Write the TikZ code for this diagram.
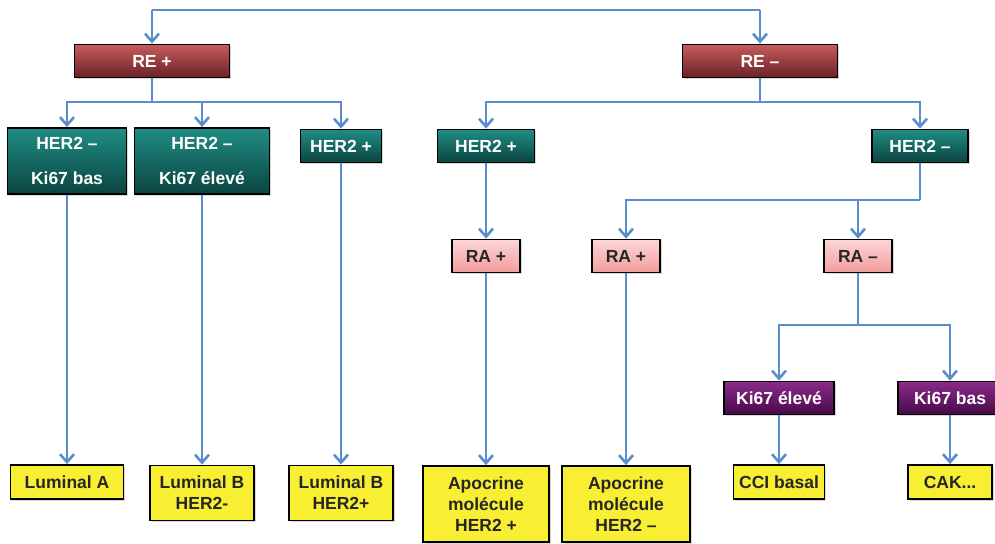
\documentclass[tikz,border=0pt]{standalone}
\usepackage{fontspec}
\setmainfont{Liberation Sans}
\usepackage{tikz}
\usetikzlibrary{arrows.meta,shadows}

\definecolor{linie}{HTML}{5A8DCB}
\definecolor{rotoben}{HTML}{C65B5D}
\definecolor{rotunten}{HTML}{6A2226}
\definecolor{tuerkisoben}{HTML}{208D84}
\definecolor{tuerkisunten}{HTML}{0B4440}
\definecolor{rosaoben}{HTML}{FDD6D6}
\definecolor{rosaunten}{HTML}{F29C9C}
\definecolor{lilaoben}{HTML}{8A2A8A}
\definecolor{lilaunten}{HTML}{480A48}
\definecolor{gelb}{HTML}{F8EE32}

\begin{document}
\begin{tikzpicture}[x=1pt,y=-1pt,
		box/.style={draw=black,line width=1.8pt,inner sep=0pt,align=center,
			font=\fontsize{17.5}{21}\selectfont\bfseries,
			drop shadow={shadow xshift=1.5pt,shadow yshift=-1.5pt,opacity=.3}},
		re/.style={box,top color=rotoben,bottom color=rotunten,text=white,minimum height=33pt},
		her/.style={box,top color=tuerkisoben,bottom color=tuerkisunten,text=white,minimum height=33pt},
		ra/.style={box,top color=rosaoben,bottom color=rosaunten,text=black!85,minimum width=68pt,minimum height=33pt},
		ki/.style={box,top color=lilaoben,bottom color=lilaunten,text=white,minimum height=33pt},
		typ/.style={box,fill=gelb,text=black!85,minimum height=34pt},
		link/.style={draw=linie,line width=2.6pt},
		arr/.style={link,-{Straight Barb[length=8pt,width=14pt]}}]
	\useasboundingbox (0,0) rectangle (995,543);
	
	%receptor nodes
	\node[re,minimum width=155pt] (reP) at (152,61) {RE +};
	\node[re,minimum width=155pt] (reM) at (760,61) {RE --};
	
	\node[her,minimum width=119pt,minimum height=66pt] (h1) at (67,161) {HER2 --\\[14pt]Ki67 bas};
	\node[her,minimum width=135pt,minimum height=66pt] (h2) at (202,161) {HER2 --\\[14pt]Ki67 élevé};
	\node[her,minimum width=81pt] (h3) at (341,146) {HER2 +};
	\node[her,minimum width=97pt] (h4) at (486,146) {HER2 +};
	\node[her,minimum width=96pt] (h5) at (920,146) {HER2 --};
	
	\node[ra] (ra1) at (486,256) {RA +};
	\node[ra] (ra2) at (626,256) {RA +};
	\node[ra] (ra3) at (858,256) {RA --};
	
	\node[ki,minimum width=110pt] (k1) at (779,398) {Ki67 élevé};
	\node[ki,minimum width=104pt] (k2) at (950,398) {Ki67 bas};
	
	%final types
	\node[typ,minimum width=113pt] (lumA) at (67,482) {Luminal A};
	\node[typ,minimum width=104pt,minimum height=55pt] (lumB1) at (202,493) {Luminal B\\HER2-};
	\node[typ,minimum width=104pt,minimum height=55pt] (lumB2) at (341,493) {Luminal B\\HER2+};
	\node[typ,minimum width=126pt,minimum height=76pt] (apo1) at (486,504) {Apocrine\\molécule\\HER2 +};
	\node[typ,minimum width=128pt,minimum height=76pt] (apo2) at (626,504) {Apocrine\\molécule\\HER2 --};
	\node[typ,minimum width=91pt] (cci) at (779,482) {CCI basal};
	\node[typ,minimum width=84pt] (cak) at (950,482) {CAK...};
	
	%junctions
	\coordinate (t1) at (152,10);
	\coordinate (t2) at (760,10);
	\coordinate (b1) at (152,102);
	\coordinate (b2) at (760,102);
	\coordinate (b3) at (920,200);
	\coordinate (b4) at (858,325);
	
	\draw[link] (t1) -- (t2);
	\draw[arr] (t1) -- (reP);
	\draw[arr] (t2) -- (reM);
	
	\draw[link] (reP) -- (b1);
	\foreach \n in {h1,h2,h3}
		\draw[arr] (b1) -| (\n.north);
	
	\draw[link] (reM) -- (b2);
	\foreach \n in {h4,h5}
		\draw[arr] (b2) -| (\n.north);
	
	\draw[link] (h5) -- (b3);
	\foreach \n in {ra2,ra3}
		\draw[arr] (b3) -| (\n.north);
	
	\draw[link] (ra3) -- (b4);
	\foreach \n in {k1,k2}
		\draw[arr] (b4) -| (\n.north);
	
	%straight arrows
	\draw[arr] (h1) -- (lumA);
	\draw[arr] (h2) -- (lumB1);
	\draw[arr] (h3) -- (lumB2);
	\draw[arr] (h4) -- (ra1);
	\draw[arr] (ra1) -- (apo1);
	\draw[arr] (ra2) -- (apo2);
	\draw[arr] (k1) -- (cci);
	\draw[arr] (k2) -- (cak);
	
\end{tikzpicture}
\end{document}
